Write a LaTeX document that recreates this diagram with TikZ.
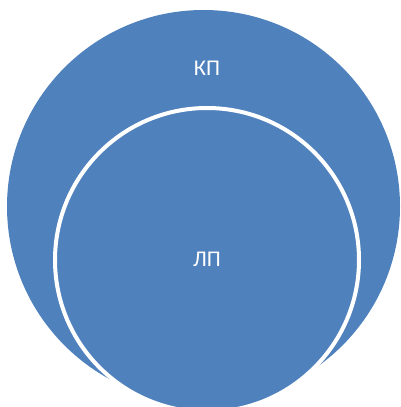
\documentclass[tikz,border=0pt]{standalone}
\usepackage{fontspec}
\setmainfont{Carlito}
\usepackage{xcolor}
\usetikzlibrary{positioning}
\definecolor{SetBlue}{HTML}{4F81BD}

\begin{document}
\begin{tikzpicture}[x=1pt, y=-1pt,
  set/.style={circle, fill=SetBlue, inner sep=0pt},
  label/.style={text=white, font=\fontsize{22.5}{26}\selectfont}
]
  \useasboundingbox (0,0) rectangle (400,407);
  \clip (0,0) rectangle (400,407);

  % outer set and inner set
  \node[set, minimum size=393pt] (KP) at (203.5,206.5) {};
  \node[set, draw=white, line width=4pt, minimum size=304pt] (LP) at (207,260) {};

  \node[label] (KPtext) at (207,68) {КП};
  \node[label] (LPtext) at (207,259) {ЛП};
\end{tikzpicture}
\end{document}
